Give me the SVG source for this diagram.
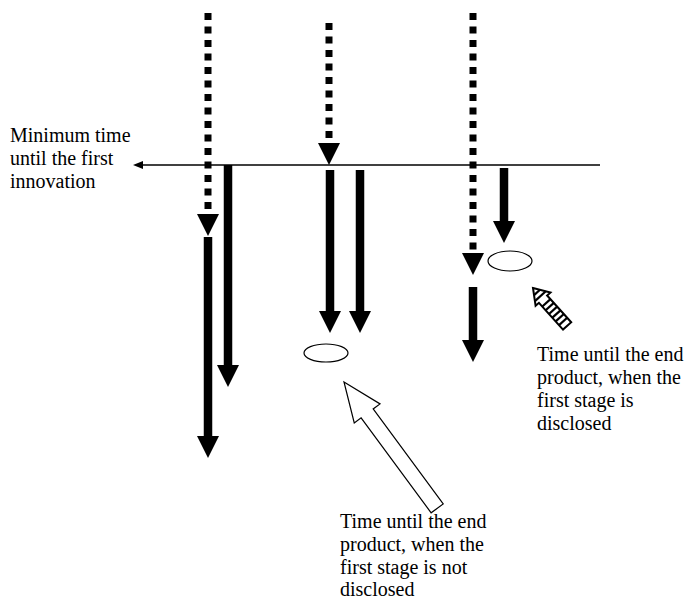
<svg xmlns="http://www.w3.org/2000/svg" xmlns:xlink="http://www.w3.org/1999/xlink" width="685" height="599" viewBox="0 0 685 599">
<style>
  .dot { stroke: #000; stroke-width: 7; stroke-dasharray: 7 6.5; fill: none; }
  .shaft { stroke: #000; stroke-width: 8.5; fill: none; }
  text { font-family: "Liberation Serif", "Times New Roman", Tinos, "DejaVu Serif", serif; font-size: 20px; fill: #000; }
  .ell { fill: #fff; stroke: #000; stroke-width: 1.2; }
</style>
<defs>
  <polygon id="head" points="-11,-22 11,-22 0,0" fill="#000"/>
</defs>
<rect width="685" height="599" fill="#fff"/>

<g id="connectors">
  <line x1="140" y1="165" x2="600" y2="165" stroke="#000" stroke-width="1.5"/>
  <polygon points="133,165 143,161 143,169" fill="#000"/>

  <line class="dot" x1="208" y1="13" x2="208" y2="215"/>
  <use xlink:href="#head" x="208" y="236"/>
  <line class="shaft" x1="208" y1="237" x2="208" y2="438"/>
  <use xlink:href="#head" x="208" y="458"/>
  <line class="shaft" x1="228" y1="165" x2="228" y2="367"/>
  <use xlink:href="#head" x="228" y="387"/>

  <line class="dot" x1="329" y1="23" x2="329" y2="143"/>
  <use xlink:href="#head" x="329" y="165"/>
  <line class="shaft" x1="330" y1="170" x2="330" y2="312"/>
  <use xlink:href="#head" x="330" y="333"/>
  <line class="shaft" x1="360" y1="170" x2="360" y2="312"/>
  <use xlink:href="#head" x="360" y="333"/>

  <line class="dot" x1="473" y1="13" x2="473" y2="253"/>
  <use xlink:href="#head" x="473" y="275"/>
  <line class="shaft" x1="504" y1="168" x2="504" y2="222"/>
  <use xlink:href="#head" x="504" y="243"/>
  <line class="shaft" x1="473" y1="287" x2="473" y2="341"/>
  <use xlink:href="#head" x="473" y="362"/>
</g>

<g id="ellipse-not-disclosed">
  <ellipse class="ell" cx="326" cy="353" rx="22" ry="9"/>
</g>
<g id="ellipse-disclosed">
  <ellipse class="ell" cx="510" cy="261" rx="22" ry="10"/>
</g>

<g id="hollow-arrow">
  <polygon transform="translate(344,382) rotate(53.6)" points="0,0 39,-16 39,-7.5 157,-7.5 157,7.5 39,7.5 39,16" fill="#fff" stroke="#000" stroke-width="1.2"/>
</g>

<g id="striped-arrow" transform="translate(533,288) rotate(48)">
  <polygon points="0,0 15,-10 15,-5.5 51,-5.5 51,5.5 15,5.5 15,10" fill="#fff" stroke="#000" stroke-width="2"/>
  <g stroke="#000" stroke-width="2.2">
    <line x1="6" y1="-4" x2="6" y2="4"/>
    <line x1="11" y1="-7.3" x2="11" y2="7.3"/>
    <line x1="20" y1="-5.5" x2="20" y2="5.5"/>
    <line x1="25" y1="-5.5" x2="25" y2="5.5"/>
    <line x1="30" y1="-5.5" x2="30" y2="5.5"/>
    <line x1="35" y1="-5.5" x2="35" y2="5.5"/>
    <line x1="40" y1="-5.5" x2="40" y2="5.5"/>
    <line x1="45" y1="-5.5" x2="45" y2="5.5"/>
  </g>
</g>

<g id="label-minimum" font-family="Liberation Serif, serif">
  <text x="10" y="142">Minimum time</text>
  <text x="10" y="165">until the first</text>
  <text x="10" y="188">innovation</text>
</g>
<g id="label-disclosed">
  <text x="537" y="361">Time until the end</text>
  <text x="537" y="384">product, when the</text>
  <text x="537" y="407">first stage is</text>
  <text x="537" y="430">disclosed</text>
</g>
<g id="label-not-disclosed">
  <text x="340" y="528">Time until the end</text>
  <text x="340" y="551">product, when the</text>
  <text x="340" y="574">first stage is not</text>
  <text x="340" y="596">disclosed</text>
</g>
</svg>
